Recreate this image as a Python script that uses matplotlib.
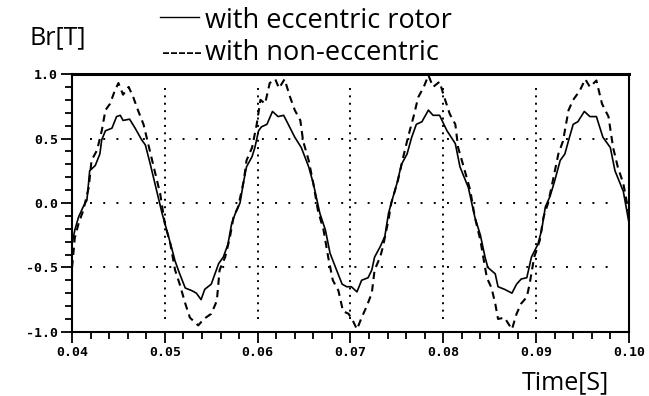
import numpy as np
import matplotlib
matplotlib.use("Agg")
import matplotlib.pyplot as plt
from matplotlib.ticker import MultipleLocator, FormatStrFormatter

# solid curve: with eccentric rotor
t_ecc = [0.0400, 0.0403, 0.0407, 0.0412, 0.0416, 0.0418, 0.0419, 0.0425, 0.0430, 0.0432,
         0.0436, 0.0443, 0.0448, 0.0452, 0.0455, 0.0462, 0.0468, 0.0475, 0.0479, 0.0484,
         0.0491, 0.0497, 0.0502, 0.0507, 0.0511, 0.0516, 0.0522, 0.0529, 0.0534, 0.0539,
         0.0543, 0.0550, 0.0558, 0.0563, 0.0568, 0.0572, 0.0576, 0.0581, 0.0585, 0.0588,
         0.0594, 0.0597, 0.0601, 0.0604, 0.0610, 0.0616, 0.0622, 0.0628, 0.0633, 0.0640,
         0.0647, 0.0655, 0.0660, 0.0667, 0.0673, 0.0678, 0.0685, 0.0691, 0.0696, 0.0701,
         0.0707, 0.0712, 0.0719, 0.0723, 0.0726, 0.0732, 0.0737, 0.0741, 0.0744, 0.0750,
         0.0755, 0.0761, 0.0766, 0.0771, 0.0777, 0.0784, 0.0789, 0.0796, 0.0804, 0.0813,
         0.0818, 0.0827, 0.0834, 0.0840, 0.0845, 0.0848, 0.0856, 0.0859, 0.0866, 0.0874,
         0.0879, 0.0884, 0.0890, 0.0895, 0.0902, 0.0906, 0.0910, 0.0915, 0.0920, 0.0926,
         0.0931, 0.0936, 0.0940, 0.0945, 0.0952, 0.0958, 0.0965, 0.0972, 0.0980, 0.0985,
         0.0994, 0.1000]
b_ecc = [-0.32, -0.21, -0.11, -0.03, 0.02, 0.17, 0.25, 0.29, 0.38, 0.49,
         0.56, 0.58, 0.67, 0.68, 0.64, 0.65, 0.58, 0.49, 0.45, 0.31,
         0.10, -0.08, -0.21, -0.34, -0.45, -0.55, -0.66, -0.68, -0.70, -0.75,
         -0.67, -0.63, -0.47, -0.42, -0.32, -0.16, -0.08, 0.00, 0.17, 0.28,
         0.36, 0.43, 0.56, 0.59, 0.61, 0.71, 0.67, 0.68, 0.61, 0.51,
         0.43, 0.28, 0.15, -0.08, -0.21, -0.39, -0.52, -0.63, -0.65, -0.65,
         -0.69, -0.60, -0.58, -0.52, -0.42, -0.34, -0.26, -0.08, 0.00, 0.15,
         0.30, 0.38, 0.51, 0.61, 0.63, 0.72, 0.68, 0.68, 0.56, 0.46,
         0.28, 0.12, -0.11, -0.25, -0.42, -0.50, -0.55, -0.65, -0.67, -0.70,
         -0.63, -0.59, -0.58, -0.42, -0.32, -0.21, -0.03, 0.05, 0.17, 0.33,
         0.38, 0.51, 0.61, 0.63, 0.71, 0.67, 0.67, 0.51, 0.43, 0.25,
         0.09, -0.15]

# dashed curve: with non-eccentric rotor
t_non = [0.0400, 0.0403, 0.0407, 0.0412, 0.0418, 0.0421, 0.0427, 0.0432, 0.0436, 0.0441,
         0.0446, 0.0450, 0.0455, 0.0461, 0.0466, 0.0471, 0.0477, 0.0482, 0.0489, 0.0495,
         0.0500, 0.0506, 0.0511, 0.0516, 0.0522, 0.0527, 0.0536, 0.0542, 0.0550, 0.0556,
         0.0559, 0.0565, 0.0570, 0.0574, 0.0579, 0.0585, 0.0588, 0.0594, 0.0599, 0.0603,
         0.0608, 0.0613, 0.0619, 0.0623, 0.0629, 0.0635, 0.0640, 0.0646, 0.0649, 0.0655,
         0.0660, 0.0665, 0.0671, 0.0676, 0.0681, 0.0687, 0.0692, 0.0698, 0.0703, 0.0707,
         0.0712, 0.0717, 0.0723, 0.0726, 0.0732, 0.0735, 0.0741, 0.0744, 0.0751, 0.0757,
         0.0762, 0.0768, 0.0773, 0.0779, 0.0784, 0.0789, 0.0796, 0.0802, 0.0807, 0.0813,
         0.0816, 0.0822, 0.0829, 0.0834, 0.0840, 0.0845, 0.0847, 0.0852, 0.0856, 0.0859,
         0.0866, 0.0874, 0.0879, 0.0884, 0.0890, 0.0893, 0.0898, 0.0904, 0.0908, 0.0913,
         0.0918, 0.0924, 0.0929, 0.0935, 0.0940, 0.0947, 0.0953, 0.0958, 0.0965, 0.0971,
         0.0978, 0.0983, 0.0988, 0.0994, 0.1000]
b_non = [-0.50, -0.27, -0.16, -0.06, 0.12, 0.33, 0.41, 0.56, 0.72, 0.77,
         0.87, 0.93, 0.84, 0.90, 0.82, 0.72, 0.61, 0.46, 0.25, 0.07,
         -0.16, -0.32, -0.52, -0.63, -0.78, -0.89, -0.95, -0.90, -0.86, -0.76,
         -0.52, -0.42, -0.27, -0.11, -0.03, 0.17, 0.33, 0.43, 0.61, 0.80,
         0.77, 0.93, 0.96, 0.89, 0.96, 0.82, 0.72, 0.64, 0.48, 0.33,
         0.15, -0.06, -0.21, -0.42, -0.60, -0.68, -0.84, -0.86, -0.92, -0.98,
         -0.89, -0.81, -0.70, -0.52, -0.42, -0.34, -0.13, 0.00, 0.17, 0.36,
         0.51, 0.67, 0.82, 0.90, 0.99, 0.90, 0.94, 0.80, 0.69, 0.61,
         0.43, 0.28, 0.10, -0.11, -0.29, -0.50, -0.58, -0.66, -0.78, -0.90,
         -0.89, -0.98, -0.86, -0.78, -0.73, -0.63, -0.42, -0.29, -0.11, 0.00,
         0.17, 0.38, 0.48, 0.72, 0.80, 0.87, 0.96, 0.90, 0.95, 0.77,
         0.67, 0.43, 0.28, 0.15, -0.08]

x_ticks = [0.04, 0.05, 0.06, 0.07, 0.08, 0.09, 0.10]
y_ticks = [-1.0, -0.5, 0.0, 0.5, 1.0]
grid_x = [0.05, 0.06, 0.07, 0.08, 0.09]
grid_y = [-0.5, 0.0, 0.5]

fig = plt.figure(figsize=(6.49, 3.96), dpi=100)
ax = fig.add_axes([0.111, 0.162, 0.858, 0.651])

ax.plot(t_ecc, b_ecc, color="black", lw=1.2, zorder=3)
ax.plot(t_non, b_non, color="black", lw=1.5, linestyle=(0, (3.5, 2.5)), zorder=3)

# dotted reference lines
for gx in grid_x:
    ax.axvline(gx, ymin=0.05, ymax=0.96, color="black", lw=1.4,
               linestyle=(0, (1, 2.8)), zorder=1)
for gy in grid_y:
    ax.axhline(gy, xmin=0.032, xmax=0.975, color="black", lw=1.4,
               linestyle=(0, (1, 5.8)), zorder=1)

ax.set_xlim(0.04, 0.10)
ax.set_ylim(-1.0, 1.0)
ax.set_xticks(x_ticks)
ax.set_yticks(y_ticks)
ax.xaxis.set_minor_locator(MultipleLocator(0.002))
ax.yaxis.set_minor_locator(MultipleLocator(0.1))
ax.xaxis.set_major_formatter(FormatStrFormatter("%.2f"))
ax.yaxis.set_major_formatter(FormatStrFormatter("%.1f"))

ax.tick_params(which="both", direction="out", width=1.3, color="black")
ax.tick_params(which="major", length=8, labelsize=9.5, pad=2)
ax.tick_params(which="minor", length=5)
for lab in ax.get_xticklabels() + ax.get_yticklabels():
    lab.set_family("DejaVu Sans Mono")
    lab.set_weight("bold")

for s in ax.spines.values():
    s.set_linewidth(1.5)
ax.spines["top"].set_linewidth(2.2)

txt = dict(family="Open Sans", fontsize=18, color="black")
fig.text(0.045, 0.889, "Br[T]", ha="left", va="baseline", **txt)
fig.text(0.804, 0.016, "Time[S]", ha="left", va="baseline", **txt)

leg = dict(family="Open Sans", fontsize=19.5, color="black")
fig.add_artist(plt.Line2D([0.247, 0.307], [0.957, 0.957], color="black", lw=1.0))
fig.text(0.316, 0.929, "with eccentric rotor", ha="left", va="baseline", **leg)
fig.text(0.249, 0.848, "-----", ha="left", va="baseline", **txt)
fig.text(0.316, 0.848, "with non-eccentric", ha="left", va="baseline", **leg)

fig.savefig("out.png", dpi=100)
